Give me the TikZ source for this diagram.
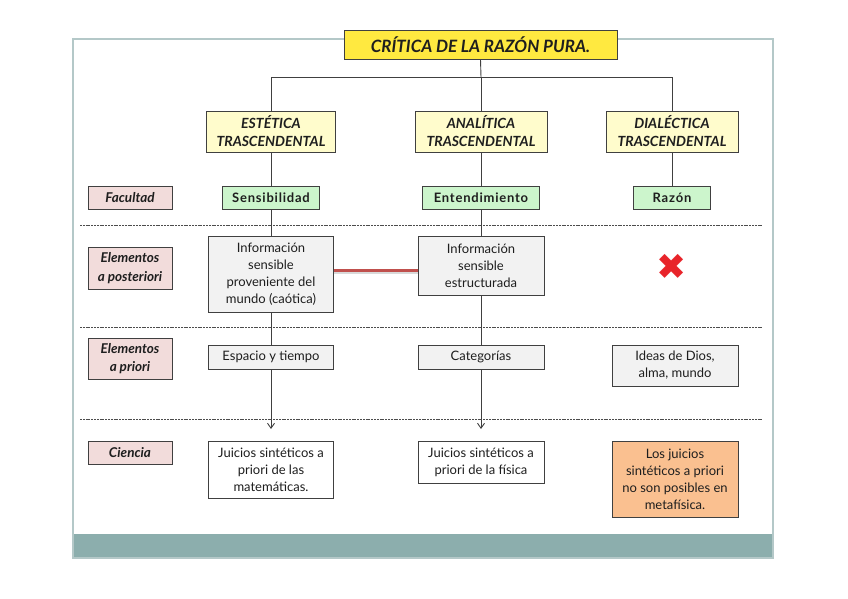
\documentclass[tikz,border=0pt]{standalone}
\usepackage{fontspec}
\setmainfont{Lato}
\newfontfamily\dejavu{DejaVu Sans}
\newfontfamily\spaced[LetterSpace=6]{Lato}
\usetikzlibrary{arrows.meta}
\definecolor{titley}{RGB}{255,233,64}
\definecolor{topy}{RGB}{255,252,204}
\definecolor{greenf}{RGB}{204,245,204}
\definecolor{pinkf}{RGB}{242,220,219}
\definecolor{grayf}{RGB}{242,242,242}
\definecolor{orangef}{RGB}{250,192,144}
\definecolor{redline}{RGB}{192,80,77}
\definecolor{redx}{RGB}{232,36,42}
\definecolor{framec}{RGB}{180,200,200}
\definecolor{barc}{RGB}{140,174,173}
\definecolor{edgec}{RGB}{64,64,64}
\definecolor{textc}{RGB}{30,30,30}
\tikzset{
  bx/.style={draw=edgec, line width=0.8pt, align=center, inner sep=1pt, text=textc, font=\fontsize{13}{17}\selectfont},
  topbox/.style={bx, fill=topy, font=\fontsize{14}{18}\selectfont\bfseries\itshape},
  facbox/.style={bx, fill=greenf, font=\fontsize{13}{16}\selectfont\spaced\bfseries},
  lblbox/.style={bx, fill=pinkf, minimum width=84pt, font=\fontsize{13.5}{18.5}\selectfont\bfseries\itshape},
  graybox/.style={bx, fill=grayf},
  link/.style={draw=edgec, line width=0.9pt},
  sep/.style={draw=black!70, line width=0.8pt, dash pattern=on 2pt off 0.8pt},
}
\begin{document}
\begin{tikzpicture}[x=1pt,y=-1pt]
\useasboundingbox (0,0) rectangle (848,599);
% frame
\fill[barc] (73,534) rectangle (773,558);
\draw[framec, line width=1.5pt] (73,39) rectangle (773,558);
% title
\node[bx, fill=titley, minimum width=273pt, minimum height=29pt, font=\fontsize{17}{20}\selectfont\bfseries\itshape] (title) at (480.5,44.5) {CRÍTICA DE LA RAZÓN PURA.};
% top boxes
\node[topbox, minimum width=129pt, minimum height=41pt] (est) at (271,131.5) {ESTÉTICA\\TRASCENDENTAL};
\node[topbox, minimum width=132pt, minimum height=41pt] (ana) at (481,131.5) {ANALÍTICA\\TRASCENDENTAL};
\node[topbox, minimum width=132pt, minimum height=41pt] (dia) at (672,131.5) {DIALÉCTICA\\TRASCENDENTAL};
\coordinate (j) at (481,77.5);
\draw[link] (title.south) -- (j);
\draw[link] (est.north) |- (j) -| (dia.north);
\draw[link] (j) -- (ana.north);
% facultad row
\node[lblbox, minimum height=23pt] (fac) at (130,197.5) {Facultad};
\node[facbox, minimum width=97pt, minimum height=23pt] (sens) at (271,197.5) {Sensibilidad};
\node[facbox, minimum width=117pt, minimum height=23pt] (ent) at (481,197.5) {Entendimiento};
\node[facbox, minimum width=77pt, minimum height=23pt] (raz) at (672,197.5) {Razón};
% separators
\draw[sep] (80,225) -- (763,225);
\draw[sep] (80,327) -- (763,327);
\draw[sep] (80,419) -- (763,419);
% a posteriori row
\node[lblbox, minimum height=42pt] (post) at (130,268) {Elementos\\a posteriori};
\node[graybox, minimum width=125pt, minimum height=76pt] (inf1) at (271,274) {Información\\sensible\\proveniente del\\mundo (caótica)};
\node[graybox, minimum width=126pt, minimum height=59pt] (inf2) at (481,265.5) {Información\\sensible\\estructurada};
\node[text=redx, font=\fontsize{36}{36}\selectfont\dejavu] (x) at (672,267) {✖};
% a priori row
\node[lblbox, minimum height=41pt] (pri) at (130,358.5) {Elementos\\a priori};
\node[graybox, minimum width=125pt, minimum height=24pt] (esp) at (271,357) {Espacio y tiempo};
\node[graybox, minimum width=126pt, minimum height=24pt] (cat) at (481,357) {Categorías};
\node[graybox, minimum width=126pt, minimum height=41pt] (ideas) at (675,365.5) {Ideas de Dios,\\alma, mundo};
% ciencia row
\node[lblbox, minimum height=23pt] (cien) at (130,452.5) {Ciencia};
\node[bx, fill=white, minimum width=125pt, minimum height=57pt] (jm) at (271,469.5) {Juicios sintéticos a\\priori de las\\matemáticas.};
\node[bx, fill=white, minimum width=126pt, minimum height=42pt] (jf) at (481,462) {Juicios sintéticos a\\priori de la física};
\node[bx, fill=orangef, minimum width=126pt, minimum height=76pt] (lj) at (675,479) {Los juicios\\sintéticos a priori\\no son posibles en\\metafísica.};
% vertical connectors
\coordinate (a1) at (271,429);
\coordinate (a2) at (481,429);
\draw[link] (est.south) -- (sens.north);
\draw[link] (sens.south) -- (inf1.north);
\draw[link] (inf1.south) -- (esp.north);
\draw[link, -{Straight Barb[length=5pt,width=7pt]}] (esp.south) -- (a1);
\draw[link] (ana.south) -- (ent.north);
\draw[link] (ent.south) -- (inf2.north);
\draw[link] (inf2.south) -- (cat.north);
\draw[link, -{Straight Barb[length=5pt,width=7pt]}] (cat.south) -- (a2);
\draw[link] (dia.south) -- (raz.north);
% red link
\coordinate (ry) at (0,270.5);
\draw[black!15, line width=3pt] ([yshift=-2pt]inf1.east |- ry) -- ([yshift=-2pt]inf2.west |- ry);
\draw[redline, line width=3pt] (inf1.east |- ry) -- (inf2.west |- ry);
\end{tikzpicture}
\end{document}
